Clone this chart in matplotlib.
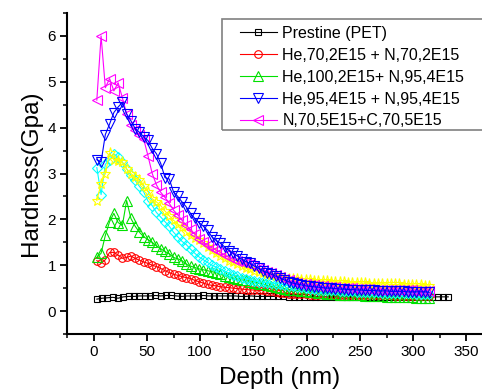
import numpy as np
import matplotlib
matplotlib.use('Agg')
import matplotlib.pyplot as plt
from matplotlib.ticker import MultipleLocator
from matplotlib.patches import Rectangle

plt.rcParams['font.family'] = ['Liberation Sans', 'DejaVu Sans']

# depth grids (nm)
depth_pet = np.arange(3, 334, 5)
depth = np.arange(3, 316, 4)

# hardness (GPa)
pet = [0.26, 0.28, 0.29, 0.30, 0.28, 0.31, 0.32, 0.32, 0.33, 0.33,
       0.33, 0.34, 0.33, 0.34, 0.34, 0.33, 0.32, 0.33, 0.33, 0.33,
       0.34, 0.33, 0.33, 0.33, 0.33, 0.33, 0.33, 0.32, 0.32, 0.33,
       0.32, 0.32, 0.32, 0.32, 0.32, 0.32, 0.31, 0.31, 0.31, 0.31,
       0.31, 0.31, 0.31, 0.31, 0.31, 0.31, 0.31, 0.31, 0.31, 0.31,
       0.31, 0.31, 0.31, 0.31, 0.31, 0.31, 0.31, 0.31, 0.31, 0.31,
       0.31, 0.31, 0.31, 0.31, 0.31, 0.31, 0.31]

he70_n70 = [1.10, 1.04, 1.12, 1.28, 1.28, 1.22, 1.15, 1.17, 1.20, 1.15,
            1.11, 1.07, 1.04, 1.00, 0.97, 0.93, 0.88, 0.84, 0.80, 0.78,
            0.75, 0.73, 0.71, 0.67, 0.64, 0.61, 0.58, 0.56, 0.55, 0.53,
            0.52, 0.51, 0.50, 0.49, 0.48, 0.47, 0.46, 0.46, 0.45, 0.45,
            0.44, 0.43, 0.41, 0.40, 0.39, 0.38, 0.38, 0.37, 0.37, 0.37,
            0.36, 0.36, 0.36, 0.36, 0.36, 0.35, 0.35, 0.35, 0.35, 0.35,
            0.35, 0.35, 0.34, 0.34, 0.34, 0.34, 0.34, 0.34, 0.34, 0.34,
            0.33, 0.33, 0.33, 0.33, 0.33, 0.33, 0.33, 0.33, 0.33]

he100_n95 = [1.17, 1.26, 1.65, 1.95, 2.13, 1.93, 1.87, 2.41, 2.02, 1.85,
             1.72, 1.62, 1.56, 1.50, 1.42, 1.36, 1.30, 1.25, 1.17, 1.14,
             1.10, 1.02, 0.98, 0.95, 0.92, 0.90, 0.88, 0.86, 0.84, 0.80,
             0.77, 0.75, 0.72, 0.70, 0.68, 0.67, 0.64, 0.62, 0.60, 0.58,
             0.56, 0.54, 0.52, 0.51, 0.49, 0.47, 0.46, 0.45, 0.44, 0.43,
             0.42, 0.41, 0.40, 0.39, 0.38, 0.38, 0.37, 0.36, 0.36, 0.35,
             0.35, 0.34, 0.34, 0.33, 0.33, 0.32, 0.32, 0.32, 0.31, 0.31,
             0.31, 0.30, 0.30, 0.30, 0.30, 0.29, 0.29, 0.29, 0.29]

he95_n95 = [3.30, 3.25, 3.85, 4.08, 4.33, 4.45, 4.55, 4.30, 4.15, 3.98,
            3.90, 3.80, 3.72, 3.55, 3.43, 3.22, 2.91, 2.88, 2.60, 2.50,
            2.38, 2.27, 2.13, 2.02, 1.93, 1.85, 1.76, 1.62, 1.54, 1.48,
            1.40, 1.32, 1.26, 1.20, 1.13, 1.08, 1.04, 0.98, 0.93, 0.87,
            0.84, 0.80, 0.76, 0.72, 0.68, 0.64, 0.61, 0.59, 0.57, 0.55,
            0.54, 0.53, 0.52, 0.51, 0.50, 0.50, 0.49, 0.48, 0.48, 0.47,
            0.47, 0.46, 0.46, 0.45, 0.45, 0.45, 0.44, 0.44, 0.44, 0.43,
            0.43, 0.43, 0.43, 0.42, 0.42, 0.42, 0.42, 0.42, 0.41]

n70_c70 = [4.60, 6.00, 4.87, 5.07, 4.80, 4.98, 4.65, 4.30, 4.05, 3.95,
           3.85, 3.75, 3.39, 3.00, 2.75, 2.59, 2.48, 2.35, 2.20, 2.10,
           1.98, 1.87, 1.78, 1.68, 1.58, 1.50, 1.44, 1.38, 1.33, 1.28,
           1.22, 1.17, 1.13, 1.10, 1.07, 1.05, 1.02, 0.98, 0.94, 0.90,
           0.86, 0.82, 0.78, 0.74, 0.70, 0.67, 0.64, 0.62, 0.60, 0.58,
           0.57, 0.56, 0.55, 0.54, 0.53, 0.53, 0.52, 0.51, 0.51, 0.50,
           0.50, 0.49, 0.49, 0.48, 0.48, 0.47, 0.47, 0.47, 0.46, 0.46,
           0.46, 0.45, 0.45, 0.45, 0.45, 0.44, 0.44, 0.44, 0.44]

# two extra series without legend entries
yellow_series = [2.41, 2.78, 3.00, 3.45, 3.30, 3.28, 3.24, 3.10, 3.00, 2.92,
                 2.85, 2.72, 2.60, 2.45, 2.38, 2.30, 2.18, 2.08, 1.98, 1.90,
                 1.83, 1.72, 1.65, 1.60, 1.55, 1.48, 1.40, 1.33, 1.26, 1.20,
                 1.15, 1.10, 1.06, 1.02, 0.98, 0.94, 0.91, 0.88, 0.85, 0.82,
                 0.80, 0.78, 0.76, 0.74, 0.72, 0.71, 0.70, 0.69, 0.68, 0.67,
                 0.67, 0.66, 0.66, 0.65, 0.65, 0.64, 0.64, 0.63, 0.63, 0.62,
                 0.62, 0.62, 0.61, 0.61, 0.60, 0.60, 0.60, 0.59, 0.59, 0.58,
                 0.58, 0.58, 0.57, 0.57, 0.57, 0.56, 0.56, 0.55, 0.55]

cyan_series = [3.13, 2.54, 3.20, 3.30, 3.43, 3.35, 3.25, 3.10, 2.96, 2.85,
               2.72, 2.60, 2.40, 2.30, 2.15, 2.05, 1.95, 1.85, 1.72, 1.62,
               1.52, 1.45, 1.35, 1.26, 1.18, 1.12, 1.06, 1.00, 0.96, 0.92,
               0.87, 0.83, 0.79, 0.76, 0.73, 0.71, 0.68, 0.66, 0.64, 0.63,
               0.62, 0.61, 0.60, 0.59, 0.57, 0.55, 0.54, 0.53, 0.52, 0.50,
               0.49, 0.48, 0.47, 0.47, 0.46, 0.45, 0.45, 0.44, 0.44, 0.43,
               0.43, 0.42, 0.42, 0.42, 0.41, 0.41, 0.41, 0.40, 0.40, 0.40,
               0.40, 0.39, 0.39, 0.39, 0.39, 0.38, 0.38, 0.38, 0.38]

fig = plt.figure(figsize=(4.82, 3.92), dpi=100)
ax = fig.add_axes([67 / 482, 58 / 392, 426 / 482, 321 / 392])

kw = dict(lw=0.8, mfc='none', mew=0.8)
l_pet, = ax.plot(depth_pet, pet, '-s', color='black', ms=5, **kw)
l_red, = ax.plot(depth, he70_n70, '-o', color='#ff0000', ms=5.5, **kw)
l_grn, = ax.plot(depth, he100_n95, '-^', color='#00e000', ms=7, **kw)
ax.plot(depth, cyan_series, '-D', color='#00ffff', ms=5, **kw)
ax.plot(depth, yellow_series, '-*', color='#ffff00', ms=8, **kw)
l_mag, = ax.plot(depth, n70_c70, '-<', color='#ff00ff', ms=7, **kw)
l_blu, = ax.plot(depth, he95_n95, '-v', color='#0000ff', ms=7, **kw)

ax.set_xlim(-25, 375)
ax.set_ylim(-0.5, 6.5)
ax.xaxis.set_major_locator(MultipleLocator(50))
ax.xaxis.set_minor_locator(MultipleLocator(25))
ax.yaxis.set_major_locator(MultipleLocator(1))
ax.yaxis.set_minor_locator(MultipleLocator(0.5))
ax.tick_params(which='major', direction='out', length=5, width=1.3,
               labelsize=11, pad=3)
ax.tick_params(which='minor', direction='out', length=3, width=1.1)
ax.spines['top'].set_visible(False)
ax.spines['right'].set_visible(False)
ax.spines['left'].set_linewidth(1.5)
ax.spines['bottom'].set_linewidth(1.5)

ax.set_xlabel('Depth (nm)', fontsize=17.5, labelpad=6)
ax.set_ylabel('Hardness(Gpa)', fontsize=17.5, labelpad=4)

labels = ['Prestine (PET)', 'He,70,2E15 + N,70,2E15', 'He,100,2E15+ N,95,4E15',
          'He,95,4E15 + N,95,4E15', 'N,70,5E15+C,70,5E15']
leg = ax.legend([l_pet, l_red, l_grn, l_blu, l_mag], labels, loc='upper left',
                bbox_to_anchor=(240 / 482, 1 - 26 / 392),
                bbox_transform=fig.transFigure, borderaxespad=0, borderpad=0,
                fontsize=11.5, handlelength=2.3, handletextpad=0.35,
                labelspacing=0.43, frameon=False)
box = Rectangle((222 / 482, 1 - 130 / 392), 270 / 482, 111 / 392,
                transform=fig.transFigure, fill=False, edgecolor='#808080',
                lw=1.2, clip_on=False)
fig.add_artist(box)

fig.savefig('out.png', dpi=100)
